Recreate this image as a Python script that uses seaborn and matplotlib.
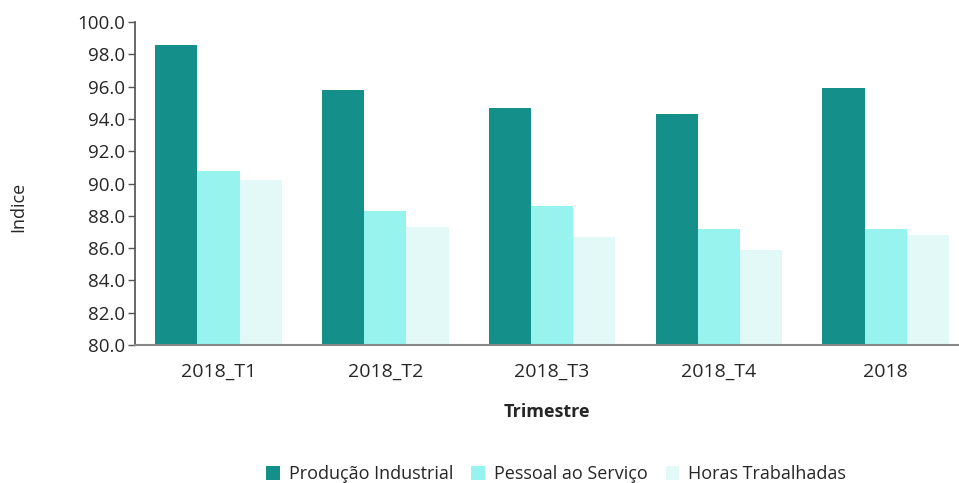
import matplotlib
matplotlib.use("Agg")
import matplotlib.pyplot as plt
import pandas as pd
import seaborn as sns

# data
trimestres = ["2018_T1", "2018_T2", "2018_T3", "2018_T4", "2018"]
producao_industrial = [98.6, 95.8, 94.7, 94.3, 95.9]
pessoal_servico = [90.8, 88.3, 88.6, 87.2, 87.2]
horas_trabalhadas = [90.2, 87.3, 86.7, 85.9, 86.8]
series_names = ["Produção Industrial", "Pessoal ao Serviço", "Horas Trabalhadas"]
colors = ["#148f89", "#96f3ee", "#e2f9f8"]
y_ticks = [80, 82, 84, 86, 88, 90, 92, 94, 96, 98, 100]

rows = []
for name, vals in zip(series_names,
                      [producao_industrial, pessoal_servico, horas_trabalhadas]):
    for t, v in zip(trimestres, vals):
        rows.append({"Trimestre": t, "Serie": name, "Indice": v})
df = pd.DataFrame(rows)

sns.set_theme(style="white")
plt.rcParams["font.family"] = ["Open Sans", "DejaVu Sans"]

fig = plt.figure(figsize=(9.59, 4.83), dpi=100)
ax = fig.add_axes([0.141, 0.286, 0.859, 0.668])

sns.barplot(data=df, x="Trimestre", y="Indice", hue="Serie",
            palette=colors, width=0.76, linewidth=0, saturation=1,
            errorbar=None, ax=ax)

ax.set_ylim(80, 100)
ax.set_yticks(y_ticks)
ax.set_yticklabels([f"{v:.1f}" for v in y_ticks], fontsize=13.5)
ax.set_xlim(-0.5, 4.44)
ax.tick_params(axis="x", length=0, labelsize=14, pad=13)
ax.tick_params(axis="y", left=True, length=5, width=1, color="#555555",
               labelsize=13.5, pad=2)

for side in ["top", "right"]:
    ax.spines[side].set_visible(False)
ax.spines["left"].set_color("#555555")
ax.spines["bottom"].set_color("#888888")
ax.spines["bottom"].set_linewidth(1.5)

ax.set_xlabel("Trimestre", fontsize=13, fontweight="bold")
ax.xaxis.set_label_coords(0.5, -0.18)
ax.set_ylabel("Indice", fontsize=13)
ax.yaxis.set_label_coords(-0.131, 0.427)

sns.move_legend(ax, "center", bbox_to_anchor=(0.58, 0.018),
                bbox_transform=fig.transFigure, ncol=3, frameon=False,
                title=None, fontsize=13, handlelength=0.75, handleheight=0.75,
                handletextpad=0.5, columnspacing=1.0, borderpad=0)

fig.savefig("out.png", dpi=100)
